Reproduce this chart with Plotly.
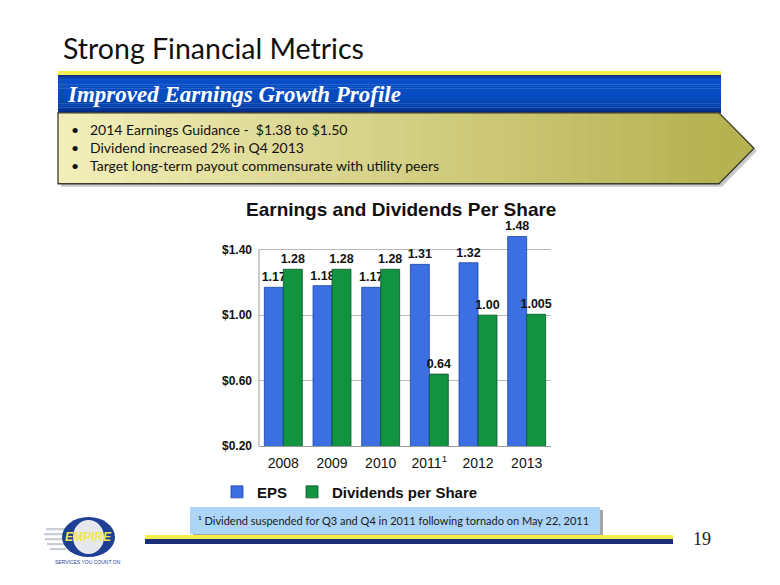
import plotly.graph_objects as go

W, H = 780, 585
OFF = 8      # page body margin in the browser
VS = 0.99    # small vertical correction observed in the rendering


def X(px):
    return (px - OFF) / W


def Y(py):
    return 1 - (py / VS - OFF) / H


# ---------------- data ----------------
years = ["2008", "2009", "2010", "2011", "2012", "2013"]
year_ticks = ["2008", "2009", "2010", "2011<sup>1</sup>", "2012", "2013"]
eps = [1.17, 1.18, 1.17, 1.31, 1.32, 1.48]
dps = [1.28, 1.28, 1.28, 0.64, 1.00, 1.005]
eps_labels = ["1.17", "1.18", "1.17", "1.31", "1.32", "1.48"]
dps_labels = ["1.28", "1.28", "1.28", "0.64", "1.00", "1.005"]
y_ticks = [0.2, 0.6, 1.0, 1.4]
y_tick_labels = ["$0.20", "$0.60", "$1.00", "$1.40"]
bullets = [
    "2014 Earnings Guidance -  $1.38 to $1.50",
    "Dividend increased 2% in Q4 2013",
    "Target long-term payout commensurate with utility peers",
]
slide_title = "Strong Financial Metrics"
banner_text = "Improved Earnings Growth Profile"
chart_title = "Earnings and Dividends Per Share"
footnote = "\u00b9 Dividend suspended for Q3 and Q4 in 2011 following tornado on May 22, 2011"
page_no = "19"

SANS = "Liberation Sans, Arial, sans-serif"
BODY = "Lato, Open Sans, sans-serif"

fig = go.Figure()
fig.add_trace(go.Bar(
    x=years, y=eps, name="EPS", text=eps_labels, textposition="outside",
    constraintext="none", cliponaxis=False,
    textfont=dict(family=SANS, size=12.5, color="#111111", weight="bold"),
    marker=dict(color="#3b6fe2", line=dict(color="#1d45a8", width=0.8)),
))
fig.add_trace(go.Bar(
    x=years, y=dps, name="Dividends per Share", text=dps_labels, textposition="outside",
    constraintext="none", cliponaxis=False,
    textfont=dict(family=SANS, size=12.5, color="#111111", weight="bold"),
    marker=dict(color="#12933f", line=dict(color="#06552a", width=0.8)),
))

shapes = []


def rect(x0, y0, x1, y1, fill, line=None, lw=0, layer="below", opacity=1.0):
    shapes.append(dict(type="rect", xref="paper", yref="paper",
                       x0=X(x0), x1=X(x1), y0=Y(y1), y1=Y(y0),
                       fillcolor=fill, opacity=opacity, layer=layer,
                       line=dict(color=line or fill, width=lw)))


def path(pts, fill=None, line=None, lw=0, layer="below", opacity=1.0):
    d = "M " + " L ".join(f"{X(a):.5f},{Y(b):.5f}" for a, b in pts) + " Z"
    shapes.append(dict(type="path", xref="paper", yref="paper", path=d,
                       fillcolor=fill or "rgba(0,0,0,0)", opacity=opacity, layer=layer,
                       line=dict(color=line or "rgba(0,0,0,0)", width=lw)))


def lerp(c1, c2, t):
    return "#%02x%02x%02x" % tuple(int(round(a + (b - a) * t)) for a, b in zip(c1, c2))


# yellow stripe + blue banner
rect(58, 71, 721, 75.5, "#f4ee4c")
blue_stops = [(0.0, (12, 40, 130)), (0.12, (10, 78, 200)), (0.6, (6, 76, 190)),
              (0.9, (3, 58, 160)), (1.0, (4, 36, 110))]
n = 20
for i in range(n):
    t = (i + 0.5) / n
    for k in range(len(blue_stops) - 1):
        if blue_stops[k][0] <= t <= blue_stops[k + 1][0]:
            a, b = blue_stops[k], blue_stops[k + 1]
            c = lerp(a[1], b[1], (t - a[0]) / (b[0] - a[0]))
            break
    y0 = 75 + (113 - 75) * i / n
    y1 = 75 + (113 - 75) * (i + 1) / n + 0.4
    rect(58, y0, 721, y1, c)

# khaki arrow box with shadow
path([(61, 116), (722, 116), (757, 151), (722, 187), (61, 187)], fill="#9a9a9a", opacity=0.55)
n = 40
c_left, c_right = (243, 239, 186), (182, 178, 82)
for i in range(n):
    x0 = 58 + (719 - 58) * i / n
    x1 = 58 + (719 - 58) * (i + 1) / n + 0.6
    rect(x0, 113, x1, 184, lerp(c_left, c_right, (i + 0.5) / n))
path([(718.5, 113), (754, 148.5), (718.5, 184)], fill="#b6b252")
path([(58, 113), (719, 113), (754, 148.5), (719, 184), (58, 184)], line="#3a3a2a", lw=1.3)

# footnote box
rect(193, 511, 603, 538, "#a6a6a6")
rect(190, 508, 600, 535, "#acd5f8")

# bottom stripes
rect(145, 536, 673, 540.5, "#f4ee4c")
rect(145, 540, 673, 545, "#1b2f78")

# logo
for yy, x0 in [(529, 46), (534, 44), (539, 45), (544, 47), (549, 50)]:
    rect(x0, yy, 66, yy + 2.2, "#c9ccd6")
shapes.append(dict(type="circle", xref="paper", yref="paper", x0=X(62), x1=X(115), y0=Y(558), y1=Y(518),
                   fillcolor="#1f3f95", line=dict(color="#1f3f95", width=0), layer="below"))
shapes.append(dict(type="circle", xref="paper", yref="paper", x0=X(73), x1=X(104), y0=Y(555), y1=Y(521),
                   fillcolor="#e6e8ee", line=dict(color="#c8ccd8", width=0), layer="below"))

# left wall edge of the chart (from $0.20 to $1.40)
shapes.append(dict(type="line", xref="paper", yref="y", x0=X(259), x1=X(259), y0=0.2, y1=1.4,
                   line=dict(color="#9a9a9a", width=1), layer="above"))

annotations = [
    dict(text=slide_title, x=X(61), y=Y(48), xanchor="left", yanchor="middle",
         font=dict(family=BODY, size=28.5, color="#111111")),
    dict(text=banner_text, x=X(65), y=Y(95), xanchor="left", yanchor="middle",
         font=dict(family="Liberation Serif, serif", size=23, color="#ffffff", weight="bold", style="italic")),
    dict(text="<b>" + chart_title + "</b>", x=X(401), y=Y(210), xanchor="center", yanchor="middle",
         font=dict(family=SANS, size=19, color="#111111")),
    dict(text=footnote, x=X(196), y=Y(521), xanchor="left", yanchor="middle",
         font=dict(family=BODY, size=11, color="#1a1a1a")),
    dict(text=page_no, x=X(702), y=Y(540), xanchor="center", yanchor="middle",
         font=dict(family="Liberation Serif, serif", size=18, color="#222222")),
    dict(text="<b><i>EMPIRE</i></b>", x=X(88), y=Y(538), xanchor="center", yanchor="middle",
         font=dict(family=SANS, size=12, color="#f2e84a")),
    dict(text="SERVICES YOU COUNT ON", x=X(88), y=Y(563), xanchor="center", yanchor="middle",
         font=dict(family=SANS, size=5, color="#1f3f95")),
]
for i, b in enumerate(bullets):
    yy = 130 + 18 * i
    annotations.append(dict(text="\u2022", x=X(75), y=Y(yy), xanchor="center", yanchor="middle",
                            font=dict(family=BODY, size=14, color="#111111")))
    annotations.append(dict(text=b, x=X(88), y=Y(yy), xanchor="left", yanchor="middle",
                            font=dict(family=BODY, size=14, color="#111111")))
for a in annotations:
    a.update(xref="paper", yref="paper", showarrow=False)

# chart area: $0.20 at y=447, $1.40 at y=250, range top 1.5
PX_PER_UNIT = (447 - 250) / 1.2
top_px = 447 - (1.5 - 0.2) * PX_PER_UNIT

fig.update_layout(
    width=W, height=H, margin=dict(l=0, r=0, t=0, b=0),
    paper_bgcolor="#ffffff", plot_bgcolor="#ffffff",
    barmode="group", bargap=0.22, bargroupgap=0.0,
    shapes=shapes, annotations=annotations,
    showlegend=True,
    legend=dict(orientation="h", x=X(217), xanchor="left", y=Y(493), yanchor="middle",
                font=dict(family=SANS, size=15, color="#111111", weight="bold"),
                bgcolor="rgba(0,0,0,0)", itemwidth=30, tracegroupgap=0),
    xaxis=dict(domain=[X(259), X(551)], tickmode="array", tickvals=years, ticktext=year_ticks,
               tickfont=dict(family=SANS, size=14, color="#111111"), showline=True,
               linecolor="#9a9a9a", linewidth=1, ticks="", showgrid=False, ticklabelstandoff=4),
    yaxis=dict(domain=[Y(447), Y(top_px)], range=[0.2, 1.5], tickmode="array", tickvals=y_ticks,
               ticktext=y_tick_labels, tickfont=dict(family=SANS, size=12, color="#111111", weight="bold"),
               showgrid=True, gridcolor="#b8b8b8", gridwidth=1, showline=False,
               ticks="", ticklabelstandoff=6, zeroline=False),
)

fig.write_html("out.html")
